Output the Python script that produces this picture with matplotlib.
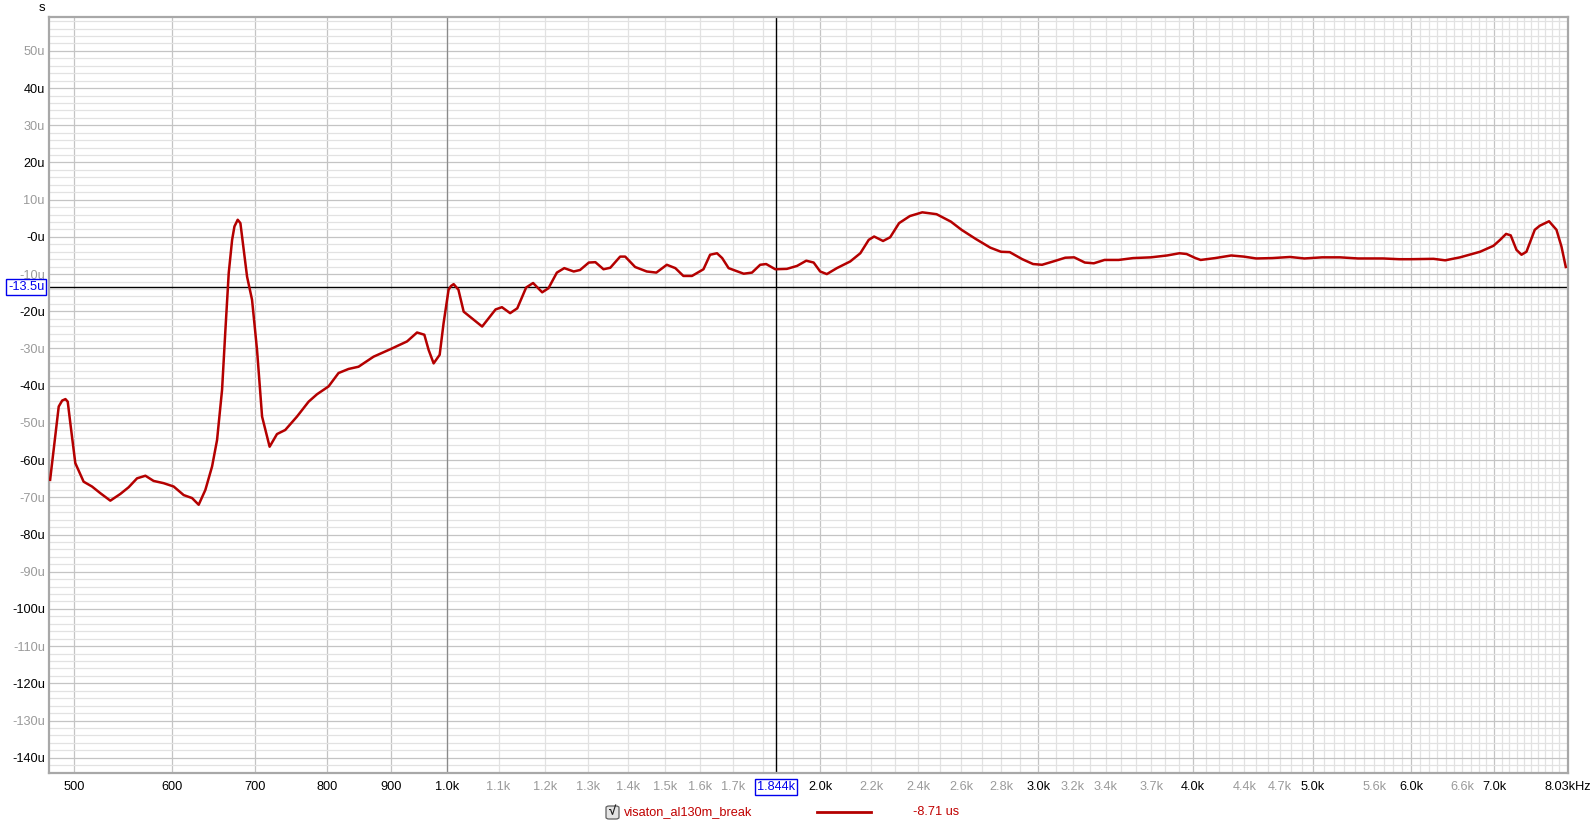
"""REW-style group delay plot of visaton_al130m_break -> out.png"""

import matplotlib
matplotlib.use("Agg")
import matplotlib.pyplot as plt
import matplotlib.transforms as mtrans
from matplotlib.lines import Line2D
from matplotlib.patches import FancyBboxPatch

plt.rcParams["font.family"] = ["Liberation Sans", "DejaVu Sans"]

# group delay curve (Hz, microseconds)
freq = [478, 485.7, 488.8, 491.8, 493.9, 496.3, 500.9, 508.7, 516.7, 524.8,
        534.6, 544.6, 553.1, 561.8, 570.6, 579.4, 590.3, 601.4, 612.7, 622.3,
        630, 637.9, 645.9, 651.9, 658, 662.1, 666.2, 670.4, 673.3, 677.4,
        680.8, 682.9, 689.3, 695.7, 702.2, 708.8, 718.8, 728.7, 740, 756.3,
        772.8, 785, 802, 817, 832.4, 848, 872, 899.5, 928, 945.4,
        958.3, 966, 975, 986, 993.2, 1002.5, 1007, 1012, 1021, 1031,
        1067, 1094, 1107, 1124, 1139, 1158, 1173, 1193, 1207, 1226,
        1243, 1265, 1280, 1301, 1317, 1337, 1354, 1379, 1392, 1418,
        1449, 1475, 1504, 1528, 1551, 1576, 1610, 1630, 1651, 1667,
        1687, 1735, 1762, 1789, 1809, 1840, 1880, 1916, 1949, 1976,
        2000, 2025, 2063, 2115, 2155, 2189, 2211, 2248, 2278, 2316,
        2363, 2418, 2483, 2550, 2601, 2672, 2744, 2799, 2845, 2912,
        2971, 3021, 3092, 3154, 3207, 3271, 3326, 3393, 3483, 3578,
        3698, 3811, 3900, 3952, 4018, 4057, 4167, 4294, 4395, 4498,
        4634, 4790, 4919, 5084, 5256, 5435, 5693, 5867, 5989, 6254,
        6391, 6570, 6819, 6991, 7078, 7157, 7219, 7297, 7365, 7433,
        7549, 7620, 7752, 7860, 7933, 7997]
delay_us = [-65.3, -45.6, -44.0, -43.6, -44.3, -50.1, -60.8, -65.8, -67.1, -68.9,
            -70.9, -69.1, -67.3, -64.9, -64.2, -65.6, -66.2, -67.1, -69.4, -70.2,
            -72.0, -68.0, -61.7, -54.6, -41.1, -25.0, -9.7, -0.8, 2.8, 4.6,
            3.7, 0.1, -10.7, -16.9, -30.4, -48.3, -56.4, -53.0, -51.9, -48.3,
            -44.3, -42.3, -40.2, -36.6, -35.5, -34.9, -32.2, -30.2, -28.1, -25.7,
            -26.3, -30.4, -34.0, -31.7, -23.2, -14.2, -13.2, -12.7, -14.2, -20.1,
            -24.1, -19.5, -18.9, -20.5, -19.2, -13.6, -12.4, -14.9, -13.8, -9.6,
            -8.4, -9.3, -8.9, -6.9, -6.8, -8.7, -8.3, -5.3, -5.3, -8.1,
            -9.3, -9.6, -7.5, -8.4, -10.5, -10.5, -8.7, -4.8, -4.4, -5.7,
            -8.4, -9.9, -9.6, -7.5, -7.3, -8.7, -8.6, -7.8, -6.4, -6.9,
            -9.3, -10.0, -8.4, -6.6, -4.4, -0.8, 0.1, -1.1, -0.1, 3.7,
            5.6, 6.6, 6.1, 4.1, 1.9, -0.6, -2.9, -4.0, -4.1, -6.0,
            -7.3, -7.5, -6.5, -5.6, -5.5, -6.9, -7.1, -6.2, -6.2, -5.7,
            -5.5, -5.0, -4.4, -4.6, -5.7, -6.2, -5.7, -5.0, -5.3, -5.8,
            -5.7, -5.4, -5.8, -5.5, -5.5, -5.8, -5.8, -6.0, -6.0, -5.9,
            -6.3, -5.5, -4.0, -2.4, -0.8, 0.8, 0.4, -3.5, -4.8, -4.0,
            1.9, 3.0, 4.2, 1.9, -2.6, -8.1]

# axis ticks
x_major = [500, 600, 700, 800, 900, 1000, 2000, 3000, 4000, 5000, 6000, 7000]
x_major_lbl = ["500", "600", "700", "800", "900", "1.0k",
               "2.0k", "3.0k", "4.0k", "5.0k", "6.0k", "7.0k"]
x_minor = [f for f in range(1100, 8001, 100) if f % 1000]
x_minor_named = {1100: "1.1k", 1200: "1.2k", 1300: "1.3k", 1400: "1.4k",
                 1500: "1.5k", 1600: "1.6k", 1700: "1.7k",
                 2200: "2.2k", 2400: "2.4k", 2600: "2.6k", 2800: "2.8k",
                 3200: "3.2k", 3400: "3.4k", 3700: "3.7k", 4400: "4.4k",
                 4700: "4.7k", 5600: "5.6k", 6600: "6.6k"}
y_major = list(range(50, -141, -10))
y_minor = [v for v in range(58, -145, -2) if v % 10]

cursor_f, cursor_y = 1844, -13.5
series_name, cursor_val = "visaton_al130m_break", "-8.71 us"

RED = "#b40000"
LEG_RED = "#c00000"
MAJ, MIN, GRAY_TXT = "#c4c4c4", "#e2e2e2", "#9a9a9a"
FS = 9.2
W, H = 1592, 827

fig = plt.figure(figsize=(W / 100, H / 100), dpi=100, facecolor="white")
ax = fig.add_axes([49 / W, 1 - 773 / H, (1568 - 49) / W, (773 - 17) / H])
ax.set_xscale("log")
ax.set_xlim(477, 8030)
ax.set_ylim(-144.1, 59.1)

ax.set_xticks(x_major, x_major_lbl)
ax.set_xticks(x_minor, [x_minor_named.get(f, "") for f in x_minor], minor=True)
ax.set_yticks(y_major, [("-0u" if v == 0 else f"{v}u") for v in y_major])
ax.set_yticks(y_minor, minor=True)
ax.tick_params(which="both", length=0, labelsize=FS)
ax.tick_params(axis="x", which="both", pad=5.5)
ax.tick_params(axis="y", pad=3)
for t in ax.get_xticklabels(minor=True):
    t.set_color(GRAY_TXT)
for v, t in zip(y_major, ax.get_yticklabels()):
    t.set_color("black" if v % 20 == 0 else GRAY_TXT)

ax.grid(which="major", color=MAJ, linewidth=0.9)
ax.grid(which="minor", color=MIN, linewidth=0.9)
ax.set_axisbelow(True)
ax.axvline(1000, color="#8a8a8a", linewidth=0.9, zorder=1)
for s in ax.spines.values():
    s.set_color("#a8a8a8")
    s.set_linewidth(1.6)

# cursor
ax.axvline(cursor_f, color="black", linewidth=1.0, zorder=2)
ax.axhline(cursor_y, color="black", linewidth=1.0, zorder=2)

ax.plot(freq, delay_us, color=RED, linewidth=1.8, zorder=3,
        solid_joinstyle="round")

bx = mtrans.blended_transform_factory(ax.transData, ax.transAxes)
by = mtrans.blended_transform_factory(ax.transAxes, ax.transData)
ax.text(cursor_f, -0.0185, "1.844k", transform=bx, ha="center", va="center",
        color="#0000ee", fontsize=FS, zorder=10, clip_on=False,
        bbox=dict(boxstyle="square,pad=0.15", fc="white", ec="#0000ee", lw=1))
ax.text(-0.003, cursor_y, "-13.5u", transform=by, ha="right", va="center",
        color="#0000ee", fontsize=FS, zorder=10, clip_on=False,
        bbox=dict(boxstyle="square,pad=0.15", fc="white", ec="#0000ee", lw=1))
ax.text(1.0, -0.0185, "8.03kHz", transform=ax.transAxes, ha="center",
        va="center", fontsize=FS, clip_on=False)

fig.text(42 / W, 1 - 8 / H, "s", ha="center", va="center", fontsize=9.5)

# legend row
fig.patches.append(FancyBboxPatch((606 / W, 1 - 819 / H), 13 / W, 13 / H,
                                  boxstyle="round,pad=0,rounding_size=0.002",
                                  transform=fig.transFigure, fc="#e4e4e4",
                                  ec="#606060", lw=0.9))
fig.text(612.5 / W, 1 - 812 / H, "√", ha="center", va="center",
         fontsize=9.5, fontweight="bold", color="#202020")
fig.text(624 / W, 1 - 812 / H, series_name, ha="left", va="center",
         fontsize=FS, color=LEG_RED)
fig.lines.append(Line2D([817 / W, 871 / W], [1 - 812 / H, 1 - 812 / H],
                        transform=fig.transFigure, color=RED, linewidth=2))
fig.text(913 / W, 1 - 812 / H, cursor_val, ha="left", va="center",
         fontsize=FS, color=LEG_RED)

fig.savefig("out.png", dpi=100, facecolor="white")
